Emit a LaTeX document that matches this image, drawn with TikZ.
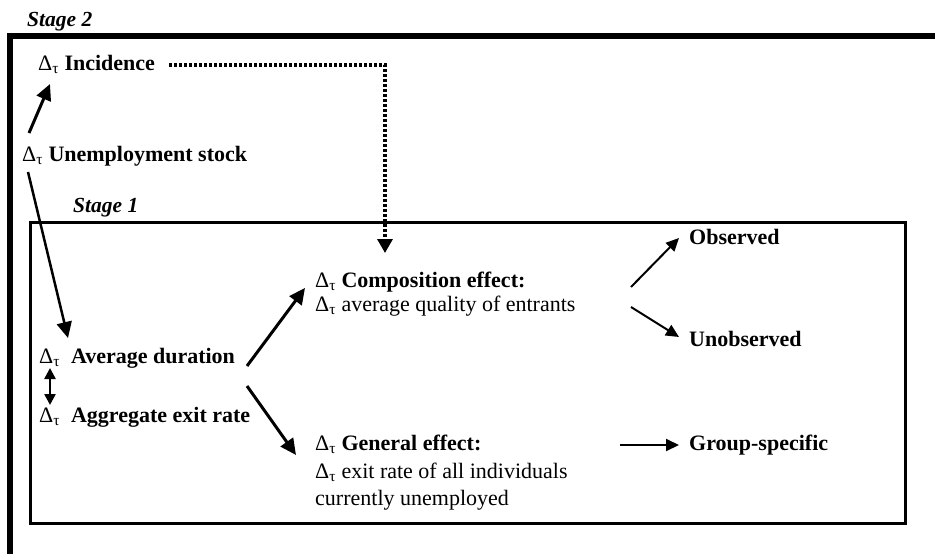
\documentclass[tikz,border=0pt]{standalone}
\usepackage{fontspec}
\setmainfont{Liberation Serif}
\usetikzlibrary{arrows.meta,calc}
\newcommand{\dtau}{{\mdseries Δ\textsubscript{τ}}}
\begin{document}
\begin{tikzpicture}[x=1pt,y=-1pt,
  txt/.style={inner sep=0pt,anchor=base west,font=\fontsize{22}{26}\selectfont},
  btxt/.style={txt,font=\fontsize{22}{26}\selectfont\bfseries},
  stg/.style={txt,font=\fontsize{21.5}{26}\selectfont\bfseries\itshape},
  thick arr/.style={line width=3pt,-{Triangle[length=16pt,width=15pt]}},
  thin arr/.style={line width=2pt,-{Triangle[length=13pt,width=12pt]}},
  dbl arr/.style={line width=2.5pt,{Triangle[length=11pt,width=11pt]}-{Triangle[length=11pt,width=11pt]}},
  dot arr/.style={line width=3.2pt,dash pattern=on 3pt off 2pt,-{Triangle[length=14pt,width=15pt]}},
  frame/.style={line width=6pt},
  inframe/.style={line width=3pt}]
\useasboundingbox (0,0) rectangle (935,554);
\clip (0,0) rectangle (935,554);
% frames
\draw[frame] (950,36) -- (10,36) -- (10,570);
\draw[inframe] (30,222) rectangle (905,523);
% labels
\node[stg] (s2) at (27,27) {Stage 2};
\node[stg] (s1) at (73,212) {Stage 1};
% nodes
\node[btxt] (inc) at (38,70) {\dtau\ Incidence};
\node[btxt] (unemp) at (22,161) {\dtau\ Unemployment stock};
\node[btxt] (avg) at (39,363) {\dtau\hspace{0.5em}Average duration};
\node[btxt] (agg) at (39,422) {\dtau\hspace{0.5em}Aggregate exit rate};
\node[btxt] (comp) at (315,287) {\dtau\ Composition effect:};
\node[txt] (compb) at (315,311) {\dtau\ average quality of entrants};
\node[btxt] (gen) at (315,450) {\dtau\ General effect:};
\node[txt] (genb) at (315,478) {\dtau\ exit rate of all individuals};
\node[txt] (genc) at (315,505) {currently unemployed};
\node[btxt] (obs) at (689,244) {Observed};
\node[btxt] (unobs) at (689,346) {Unobserved};
\node[btxt] (grp) at (689,450) {Group-specific};
% connectors
\draw[thick arr] ($(unemp.base west)+(7,-28)$) -- ($(inc.base west)+(12,14)$);
\draw[thick arr, line width=2.5pt] ($(unemp.base west)+(6,11)$) -- ($(avg.base west)+(29,-25)$);
\draw[dot arr] ($(inc.base east)+(14,-5)$) -| ($(comp.base west)+(70,-34)$);
\draw[dbl arr] ($(avg.base west)+(11,5)$) -- ($(agg.base west)+(11,-17)$);
\draw[thick arr] ($(avg.base west)+(208,3)$) -- ($(comp.base west)+(-10,1)$);
\draw[thick arr] ($(avg.base west)+(208,23)$) -- ($(gen.base west)+(-19,5)$);
\draw[thin arr] ($(comp.base west)+(316,0)$) -- ($(obs.base west)+(-10,-6)$);
\draw[thin arr] ($(compb.base west)+(316,-4)$) -- ($(unobs.base west)+(-10,-9)$);
\draw[thin arr] ($(gen.base west)+(305,-5)$) -- ($(grp.base west)+(-10,-5)$);
\end{tikzpicture}
\end{document}
